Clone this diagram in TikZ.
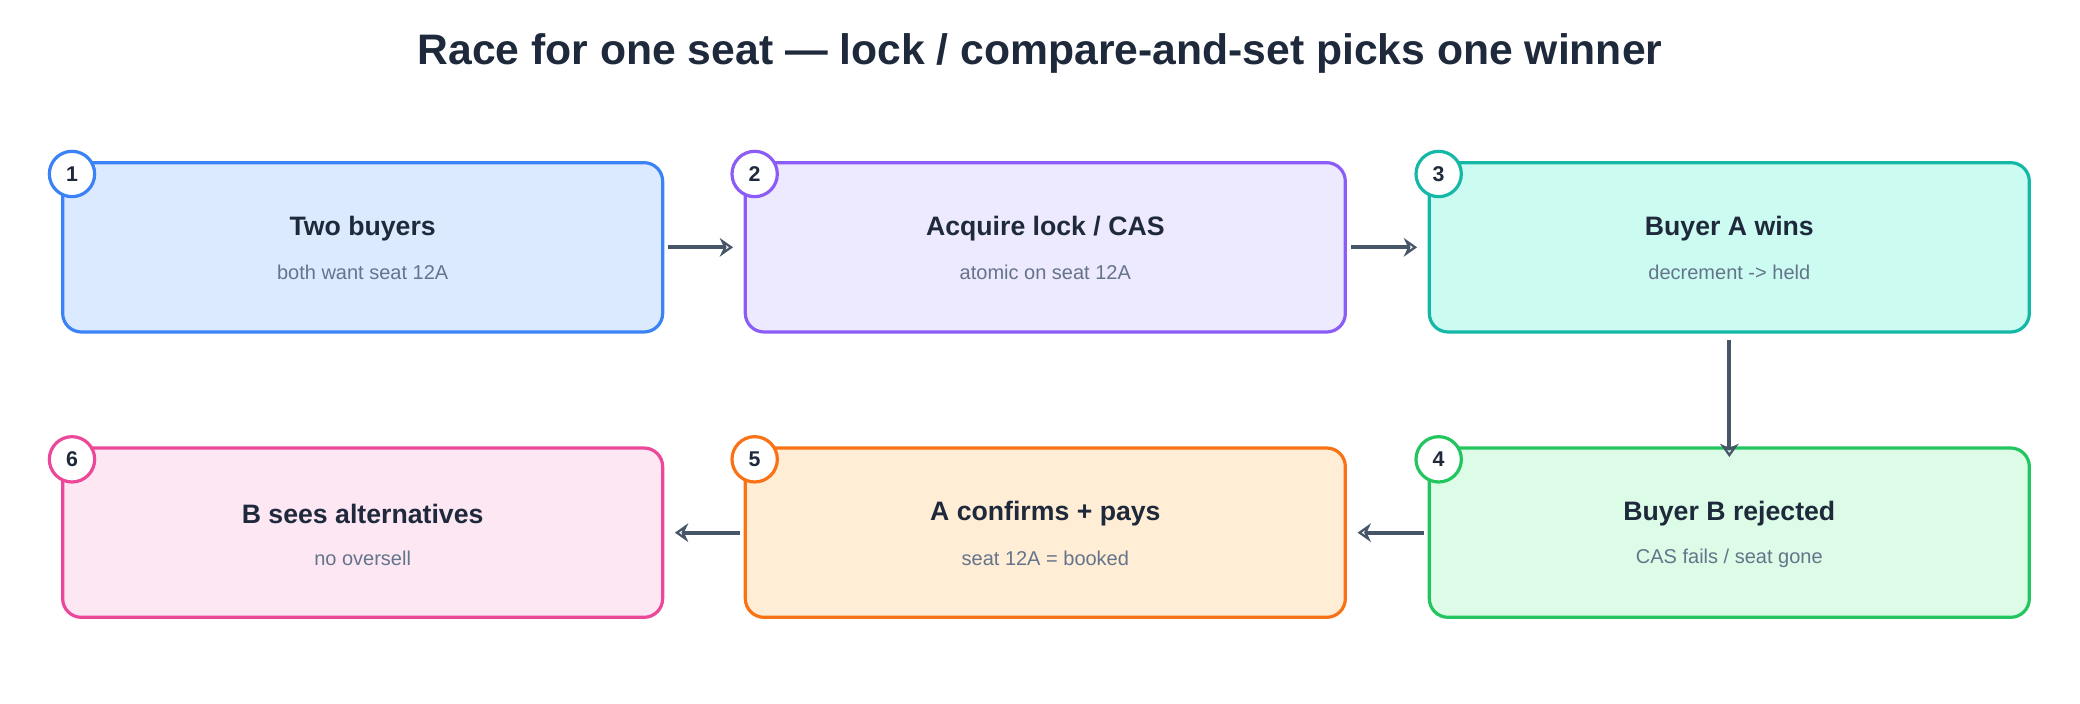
\documentclass[tikz,border=0pt]{standalone}
\usepackage{fontspec}
\setmainfont{Liberation Sans}
\usetikzlibrary{arrows.meta}
\definecolor{tx}{HTML}{1E293B}\definecolor{sub}{HTML}{64748B}\definecolor{ar}{HTML}{475569}
\definecolor{b1}{HTML}{3B82F6}\definecolor{f1}{HTML}{DBEAFE}
\definecolor{b2}{HTML}{8B5CF6}\definecolor{f2}{HTML}{EDE9FE}
\definecolor{b3}{HTML}{14B8A6}\definecolor{f3}{HTML}{CCFBF1}
\definecolor{b4}{HTML}{22C55E}\definecolor{f4}{HTML}{DCFCE7}
\definecolor{b5}{HTML}{F97316}\definecolor{f5}{HTML}{FFEDD5}
\definecolor{b6}{HTML}{EC4899}\definecolor{f6}{HTML}{FCE7F3}
\begin{document}
\begin{tikzpicture}[x=0.5pt,y=-0.5pt,
 box/.style={draw=#1,line width=1.2pt,rounded corners=7pt,minimum width=225pt,minimum height=63.5pt},
 num/.style={circle,draw=#1,fill=white,line width=1.2pt,minimum size=17pt,inner sep=0pt,font=\bfseries\fontsize{8}{9}\selectfont,text=tx},
 arr/.style={-{Stealth[length=5pt,width=7pt,open]},draw=ar,line width=1.4pt,shorten >=1pt}]
\useasboundingbox (0,0) rectangle (1560,528);
\node[text=tx,font=\bfseries\fontsize{16}{19}\selectfont] (title) at (780,40) {Race for one seat — lock / compare-and-set picks one winner};
\newcommand\bx[7]{%
 \node[box=#4,fill=#5] (n#1) at (#2,#3) {};
 \node[text=tx,font=\bfseries\fontsize{10}{12}\selectfont] (t#1) at (#2,{#3-14}) {#6};
 \node[text=sub,font=\fontsize{7.5}{9}\selectfont] (s#1) at (#2,{#3+19}) {#7};
 \node[num=#4] (c#1) at ({#2-218},{#3-55}) {#1};}
\bx{1}{272}{185.5}{b1}{f1}{Two buyers}{both want seat 12A}
\bx{2}{784}{185.5}{b2}{f2}{Acquire lock / CAS}{atomic on seat 12A}
\bx{3}{1297}{185.5}{b3}{f3}{Buyer A wins}{decrement -> held}
\bx{4}{1297}{399.5}{b4}{f4}{Buyer B rejected}{CAS fails / seat gone}
\bx{5}{784}{399.5}{b5}{f5}{A confirms + pays}{seat 12A = booked}
\bx{6}{272}{399.5}{b6}{f6}{B sees alternatives}{no oversell}
\draw[arr] (n1.east)++(3,0) -- ([xshift=-3]n2.west);
\draw[arr] (n2.east)++(3,0) -- ([xshift=-3]n3.west);
\draw[arr] (n3.south)++(0,5) -- ([yshift=-5]n4.north);
\draw[arr] (n4.west)++(-3,0) -- ([xshift=3]n5.east);
\draw[arr] (n5.west)++(-3,0) -- ([xshift=3]n6.east);
\end{tikzpicture}
\end{document}
